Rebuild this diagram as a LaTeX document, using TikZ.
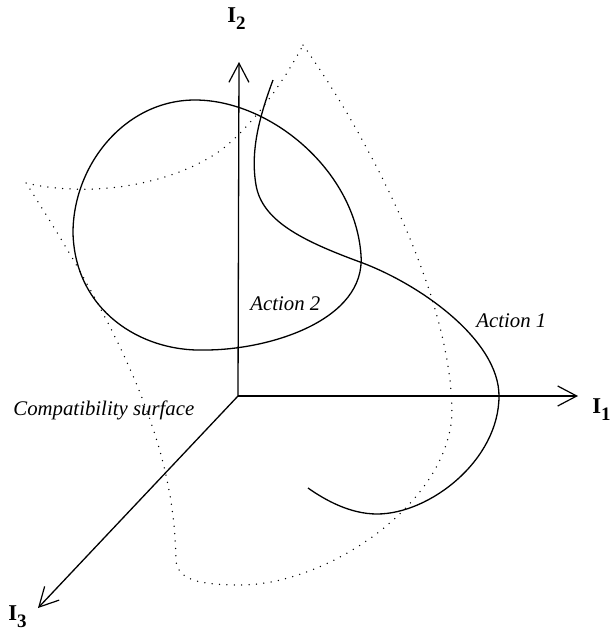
\documentclass[tikz,border=0pt]{standalone}
\usepackage{fontspec}
\setmainfont{Liberation Serif}
\usetikzlibrary{arrows.meta}
\tikzset{
  axis/.style={line width=0.65pt,-{Straight Barb[length=9.5pt,width=10pt,line width=0.6pt]}},
  curve/.style={line width=0.65pt},
  surf/.style={line width=0.75pt,line cap=round,dash pattern=on 0pt off 3.7pt},
  lab/.style={font=\fontsize{10.4}{12}\selectfont\itshape,inner sep=0pt},
  axlab/.style={inner sep=0pt,anchor=base west}
}
\newcommand{\axname}[1]{\fontsize{11.3}{12}\selectfont\textbf{I}\raisebox{-3.5pt}{\fontsize{9.5}{10}\selectfont\textbf{#1}}}
\begin{document}
\begin{tikzpicture}[x=0.5pt,y=-0.5pt]
\useasboundingbox (0,0) rectangle (611,638);
% axes
\coordinate (O) at (238,396);
\coordinate (X) at (578,396);
\coordinate (Y) at (239,62);
\coordinate (Z) at (38,608);
\draw[axis] (O) -- (X);
\draw[axis] (O) -- (Y);
\draw[axis] (O) -- (Z);
\node[axlab] (l1) at (592,413) {\axname{1}};
\node[axlab] (l2) at (227,22) {\axname{2}};
\node[axlab] (l3) at (8,620) {\axname{3}};
% compatibility surface (dotted)
\draw[surf] (303,45) .. controls (350,110) and (450,280) .. (452,410)
  .. controls (452,500) and (330,585) .. (240,585)
  .. controls (200,585) and (177,580) .. (176,560)
  .. controls (174,460) and (140,360) .. (26,183)
  .. controls (80,196) and (160,190) .. (217,153)
  .. controls (250,130) and (285,80) .. (303,45);
% Action 2 loop
\draw[curve] (195,100) .. controls (270,100) and (355,170) .. (361,255)
  .. controls (366,320) and (270,350) .. (205,350)
  .. controls (140,352) and (75,310) .. (73,233)
  .. controls (73,165) and (125,100) .. (195,100) -- cycle;
% Action 1 curve
\draw[curve] (273,80) .. controls (260,115) and (250,150) .. (256,185)
  .. controls (262,220) and (300,240) .. (360,262)
  .. controls (420,284) and (499,340) .. (499,396)
  .. controls (499,460) and (430,514) .. (377,514)
  .. controls (350,514) and (325,500) .. (308,488);
% labels
\node[lab,anchor=base west] (a2) at (250,310) {Action 2};
\node[lab,anchor=base west] (a1) at (476,327) {Action 1};
\node[lab,anchor=base west] (cs) at (13,415) {Compatibility surface};
\end{tikzpicture}
\end{document}
